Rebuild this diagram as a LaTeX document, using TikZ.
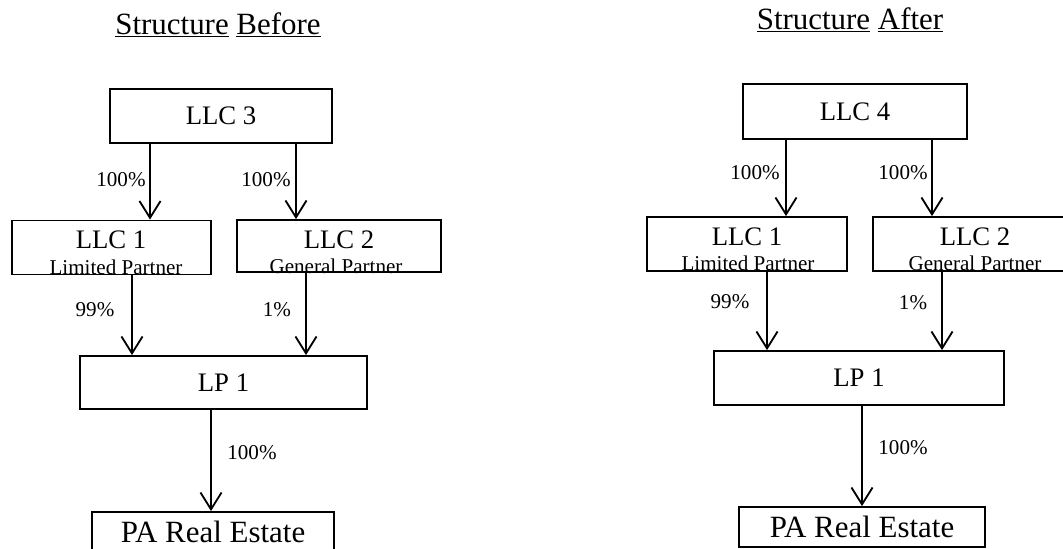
\documentclass[tikz,border=0pt]{standalone}
\usepackage{fontspec}
\setmainfont{Liberation Serif}
\usetikzlibrary{arrows.meta}

\newcommand\ttlfont{\fontsize{22}{24}\selectfont}
\newcommand\boxfont{\fontsize{19}{22}\selectfont}
\newcommand\pafont{\fontsize{22}{24}\selectfont}
\newcommand\pctfont{\fontsize{15}{17}\selectfont}
\newcommand\rolefont{\fontsize{15}{17}\selectfont}

\tikzset{
  box/.style={draw, line width=1.3pt, inner sep=0pt},
  own/.style={line width=1.3pt, -{Straight Barb[length=12pt,width=15pt]}},
  pct/.style={inner sep=0pt, font=\pctfont},
  rolelbl/.style={inner sep=0pt, anchor=base, font=\rolefont},
  entname/.style={inner sep=0pt, anchor=base, font=\boxfont},
  ttl/.style={inner sep=0pt, font=\ttlfont}
}

\begin{document}
\begin{tikzpicture}[x=0.025cm, y=-0.025cm]
    \useasboundingbox (0,0) rectangle (1063,548);
    \clip (0,0) rectangle (1063,548);

    % before
    \node[ttl] (tA) at (218,25) {\underline{Structure} \underline{Before}};
    \node[box, minimum width=5.55cm, minimum height=1.35cm, font=\boxfont] (llcC) at (221,116) {LLC 3};
    \node[box, minimum width=4.975cm, minimum height=1.35cm] (llcA) at (111.5,247.5) {};
    \node[entname] at (111,248) {LLC 1};
    \node[rolelbl] at (116,274) {Limited Partner};
    \node[box, minimum width=5.1cm, minimum height=1.3cm] (llcB) at (339,246) {};
    \node[entname] at (339,248) {LLC 2};
    \node[rolelbl] at (336,273) {General Partner};
    \node[box, minimum width=7.175cm, minimum height=1.325cm, font=\boxfont] (lpA) at (223.5,382.5) {LP 1};
    \node[box, minimum width=6.05cm, minimum height=1cm, font=\pafont] (paA) at (213,532) {PA Real Estate};

    \draw[own] (llcC.south -| 150,0) -- (llcA.north -| 150,0);
    \draw[own] (llcC.south -| 296,0) -- (llcB.north -| 296,0);
    \draw[own] (llcA.south -| 132,0) -- (lpA.north -| 132,0);
    \draw[own] (llcB.south -| 306,0) -- (lpA.north -| 306,0);
    \draw[own] (lpA.south -| 211,0) -- (paA.north -| 211,0);
    \node[pct] at (121,180) {100\%};
    \node[pct] at (266,180) {100\%};
    \node[pct] at (95,310) {99\%};
    \node[pct] at (277,310) {1\%};
    \node[pct] at (252,453) {100\%};

    % after
    \node[ttl] (tB) at (850,20) {\underline{Structure} \underline{After}};
    \node[box, minimum width=5.6cm, minimum height=1.375cm, font=\boxfont] (llcD) at (855,111.5) {LLC 4};
    \node[box, minimum width=5cm, minimum height=1.35cm] (llcE) at (747,244) {};
    \node[entname] at (747,245) {LLC 1};
    \node[rolelbl] at (748,270) {Limited Partner};
    \node[box, minimum width=5.1cm, minimum height=1.35cm] (llcF) at (975,244) {};
    \node[entname] at (975,245) {LLC 2};
    \node[rolelbl] at (975,270) {General Partner};
    \node[box, minimum width=7.25cm, minimum height=1.35cm, font=\boxfont] (lpB) at (859,378) {LP 1};
    \node[box, minimum width=6.15cm, minimum height=1cm, font=\pafont] (paB) at (862,527) {PA Real Estate};

    \draw[own] (llcD.south -| 786,0) -- (llcE.north -| 786,0);
    \draw[own] (llcD.south -| 932,0) -- (llcF.north -| 932,0);
    \draw[own] (llcE.south -| 767,0) -- (lpB.north -| 767,0);
    \draw[own] (llcF.south -| 942,0) -- (lpB.north -| 942,0);
    \draw[own] (lpB.south -| 862,0) -- (paB.north -| 862,0);
    \node[pct] at (755,173) {100\%};
    \node[pct] at (903,173) {100\%};
    \node[pct] at (730,302) {99\%};
    \node[pct] at (913,303) {1\%};
    \node[pct] at (903,448) {100\%};
\end{tikzpicture}
\end{document}
